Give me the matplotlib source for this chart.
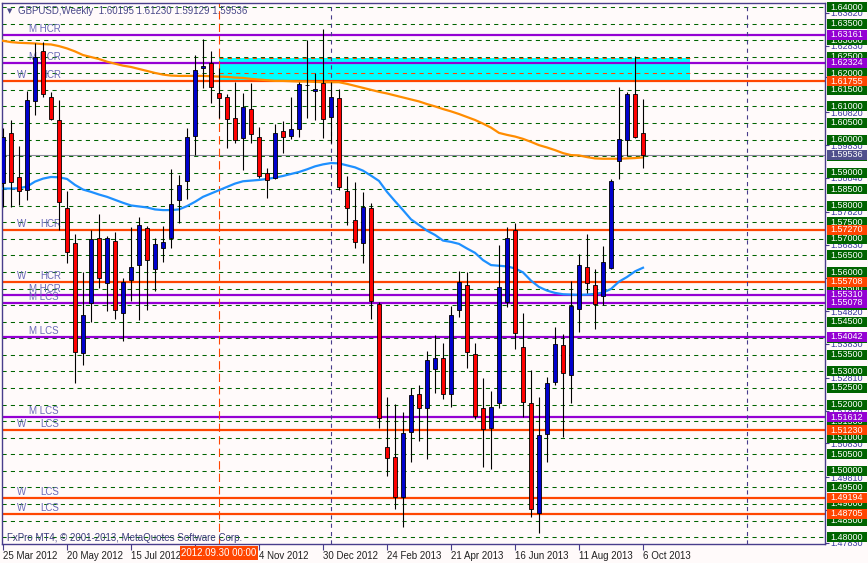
import numpy as np
import pandas as pd
import matplotlib
matplotlib.use('Agg')
import matplotlib.pyplot as plt
from matplotlib.patches import Rectangle
from matplotlib.transforms import blended_transform_factory

plt.rcParams['font.family'] = ['Liberation Sans', 'DejaVu Sans']
plt.rcParams['lines.scale_dashes'] = False

symbol = 'GBPUSD,Weekly'
first_week = '2012-03-25'

# weekly OHLC
opens = [1.5870, 1.6019, 1.5886, 1.5847, 1.6116, 1.6267, 1.6127, 1.6059, 1.5792, 1.5687,
         1.5357, 1.5507, 1.5702, 1.5566, 1.5693, 1.5475, 1.5575, 1.5620, 1.5732, 1.5608,
         1.5672, 1.5702, 1.5817, 1.5874, 1.6012, 1.6215, 1.6230, 1.6140, 1.6127, 1.6064,
         1.6004, 1.6091, 1.6007, 1.5898, 1.5883, 1.6027, 1.6012, 1.6031, 1.6164, 1.6147,
         1.6170, 1.6067, 1.6124, 1.5845, 1.5757, 1.5687, 1.5792, 1.5504, 1.5073, 1.5041,
         1.4922, 1.5116, 1.5232, 1.5189, 1.5306, 1.5340, 1.5231, 1.5485, 1.5560, 1.5352,
         1.5189, 1.5130, 1.5204, 1.5510, 1.5726, 1.5374, 1.5204, 1.4872, 1.5110, 1.5267,
         1.5380, 1.5288, 1.5488, 1.5614, 1.5560, 1.5528, 1.5611, 1.5934, 1.5998, 1.6137,
         1.60195]
highs = [1.6035, 1.6059, 1.5980, 1.6147, 1.6290, 1.6295, 1.6143, 1.6119, 1.5846, 1.5714,
         1.5599, 1.5727, 1.5774, 1.5709, 1.5721, 1.5581, 1.5737, 1.5767, 1.5739, 1.5702,
         1.5740, 1.5911, 1.5893, 1.6034, 1.6255, 1.6303, 1.6267, 1.6215, 1.6137, 1.6175,
         1.6141, 1.6172, 1.6039, 1.5913, 1.6046, 1.6057, 1.6129, 1.6175, 1.6300, 1.6200,
         1.6333, 1.6175, 1.6152, 1.5890, 1.5873, 1.5843, 1.5807, 1.5510, 1.5222, 1.5201,
         1.5177, 1.5249, 1.5259, 1.5362, 1.5410, 1.5385, 1.5498, 1.5603, 1.5599, 1.5385,
         1.5279, 1.5241, 1.5682, 1.5735, 1.5747, 1.5477, 1.5304, 1.5222, 1.5284, 1.5435,
         1.5413, 1.5573, 1.5654, 1.5715, 1.5609, 1.5679, 1.5882, 1.6158, 1.6144, 1.6252,
         1.61230]
lows = [1.5797, 1.5797, 1.5802, 1.5817, 1.6074, 1.6128, 1.6059, 1.5727, 1.5626, 1.5266,
        1.5319, 1.5450, 1.5551, 1.5483, 1.5458, 1.5391, 1.5513, 1.5455, 1.5485, 1.5544,
        1.5631, 1.5673, 1.5747, 1.5820, 1.5953, 1.6156, 1.6109, 1.6064, 1.5974, 1.5990,
        1.5908, 1.5990, 1.5883, 1.5823, 1.5880, 1.5958, 1.6001, 1.6009, 1.6064, 1.6059,
        1.6004, 1.5989, 1.5848, 1.5742, 1.5672, 1.5628, 1.5457, 1.5128, 1.4985, 1.4885,
        1.4831, 1.5028, 1.5091, 1.5035, 1.5236, 1.5216, 1.5194, 1.5465, 1.5311, 1.5156,
        1.5012, 1.5006, 1.5191, 1.5493, 1.5367, 1.5163, 1.4860, 1.4813, 1.5028, 1.5258,
        1.5101, 1.5204, 1.5420, 1.5536, 1.5427, 1.5501, 1.5608, 1.5882, 1.5950, 1.6005,
        1.59129]
closes = [1.6009, 1.5871, 1.5844, 1.6119, 1.6248, 1.6137, 1.6061, 1.5811, 1.5661, 1.5360,
          1.5470, 1.5699, 1.5581, 1.5702, 1.5485, 1.5571, 1.5614, 1.5741, 1.5635, 1.5684,
          1.5690, 1.5804, 1.5862, 1.6007, 1.6210, 1.6222, 1.6159, 1.6126, 1.6061, 1.5999,
          1.6097, 1.6016, 1.5890, 1.5878, 1.6021, 1.6007, 1.6031, 1.6168, 1.6164, 1.6152,
          1.6061, 1.6127, 1.5858, 1.5792, 1.5690, 1.5797, 1.5514, 1.5160, 1.5038, 1.4920,
          1.5113, 1.5229, 1.5191, 1.5335, 1.5341, 1.5231, 1.5469, 1.5569, 1.5358, 1.5166,
          1.5125, 1.5194, 1.5554, 1.5702, 1.5415, 1.5209, 1.4884, 1.5107, 1.5264, 1.5382,
          1.5294, 1.5498, 1.5621, 1.5566, 1.5503, 1.5629, 1.5875, 1.6001, 1.6137, 1.6007,
          1.59536]

# moving averages (orange = slow, blue = fast)
ma_slow = [1.6298, 1.6294, 1.6292, 1.6291, 1.6290, 1.6288, 1.6287, 1.6282, 1.6275, 1.6266,
           1.6255, 1.6249, 1.6243, 1.6235, 1.6229, 1.6223, 1.6219, 1.6213, 1.6207, 1.6201,
           1.6196, 1.6193, 1.6192, 1.6192, 1.6192, 1.6192, 1.6191, 1.6190, 1.6189, 1.6187,
           1.6186, 1.6183, 1.6181, 1.6179, 1.6177, 1.6177, 1.6176, 1.6175, 1.6175, 1.6174,
           1.6173, 1.6173, 1.6173, 1.6168, 1.6162, 1.6156, 1.6150, 1.6144, 1.6139, 1.6133,
           1.6127, 1.6121, 1.6115, 1.6107, 1.6100, 1.6092, 1.6085, 1.6077, 1.6068, 1.6059,
           1.6048, 1.6036, 1.6020, 1.6014, 1.6009, 1.6002, 1.5993, 1.5983, 1.5976, 1.5968,
           1.5959, 1.5953, 1.5952, 1.5947, 1.5943, 1.5942, 1.5942, 1.5942, 1.5943, 1.5944,
           1.5946]
ma_fast = [1.5852, 1.5852, 1.5853, 1.5858, 1.5873, 1.5882, 1.5887, 1.5886, 1.5881, 1.5863,
           1.5849, 1.5842, 1.5834, 1.5827, 1.5818, 1.5809, 1.5801, 1.5798, 1.5795, 1.5789,
           1.5787, 1.5787, 1.5789, 1.5799, 1.5812, 1.5827, 1.5837, 1.5847, 1.5857, 1.5867,
           1.5874, 1.5876, 1.5878, 1.5881, 1.5885, 1.5890, 1.5896, 1.5902, 1.5910, 1.5919,
           1.5925, 1.5929, 1.5928, 1.5922, 1.5916, 1.5906, 1.5891, 1.5875, 1.5842, 1.5814,
           1.5787, 1.5759, 1.5742, 1.5725, 1.5712, 1.5695, 1.5691, 1.5685, 1.5671, 1.5658,
           1.5636, 1.5621, 1.5619, 1.5617, 1.5611, 1.5599, 1.5574, 1.5555, 1.5544, 1.5537,
           1.5533, 1.5532, 1.5531, 1.5532, 1.5534, 1.5538, 1.5549, 1.5571, 1.5585, 1.5602,
           1.5613]

# support / resistance levels
level_prices = [1.63161, 1.62324, 1.61755, 1.57270, 1.55708, 1.55310,
                1.55078, 1.54042, 1.51612, 1.51230, 1.49194, 1.48705]
level_frames = ['M', 'M', 'W', 'W', 'W', 'M', 'M', 'M', 'M', 'W', 'W', 'W']
level_names = ['HCR', 'HCR', 'HCR', 'HCR', 'HCR', 'HCR',
               'LCS', 'LCS', 'LCS', 'LCS', 'LCS', 'LCS']

zone_start = 27
zone_end = 85.9
zone_low = 1.61755
zone_high = 1.62455

year_breaks = [41, 93]
marker_bar = 27
marker_label = '2012.09.30 00:00'

scale_labels = [1.63820, 1.62830, 1.61880, 1.60820, 1.59830, 1.58840, 1.57820, 1.56830,
                1.55810, 1.54820, 1.53830, 1.52810, 1.51820, 1.50830, 1.49810, 1.48820, 1.47830]

n = len(closes)
x = np.arange(n)
o = np.array(opens); h = np.array(highs); l = np.array(lows); c = np.array(closes)
weeks = pd.date_range(first_week, periods=n, freq='W-SUN')

bg = '#fffafa'
frame = '#483d8b'
fig = plt.figure(figsize=(8.68, 5.63), dpi=100, facecolor=bg)
ax = fig.add_axes([2/868, 19/563, 823/868, 541/563], facecolor=bg)
ax.set_xlim(-0.125, 102.75)
ax.set_ylim(1.47791, 1.64121)

# grid
grid = np.round(np.arange(1.48, 1.6401, 0.005), 3)
for p in grid:
    ax.axhline(p, color='#006400', lw=0.75, ls=(0, (3, 3)), zorder=1)

# zone box
ax.add_patch(Rectangle((zone_start, zone_low), zone_end - zone_start, zone_high - zone_low,
                       fc='#00ffff', ec='none', zorder=1.5))
ax.plot([zone_start, zone_end], [zone_high, zone_high], color='#ff4500', lw=0.75, ls=(0, (3, 3)), zorder=1.6)
ax.plot([zone_start, zone_end], [1.62, 1.62], color='#ff4500', lw=0.75, ls=(0, (3, 3)), zorder=1.6)

# levels
lvl_color = {'M': '#9400d3', 'W': '#ff4500'}
for p, fr, nm in zip(level_prices, level_frames, level_names):
    ax.axhline(p, color=lvl_color[fr], lw=1.6, zorder=2)
    if fr == 'M':
        ax.text(3.25, p + 0.0003, f'M {nm}', color='#6a6ab8', fontsize=7, va='bottom', zorder=2.5)
    else:
        ax.text(1.75, p + 0.0003, 'W', color='#6a6ab8', fontsize=7, va='bottom', zorder=2.5)
        ax.text(4.6, p + 0.0003, nm, color='#6a6ab8', fontsize=7, va='bottom', zorder=2.5)

ax.axhline(closes[-1], color='#8a8a9a', lw=0.8, zorder=2)
for b in year_breaks:
    ax.axvline(b, color=frame, lw=0.8, ls=(0, (3, 3)), zorder=2)
ax.axvline(marker_bar, color='#ff4500', lw=0.8, ls=(0, (6, 3)), zorder=2)

# moving averages
ax.plot(x, ma_slow, color='#ff8c00', lw=1.6, zorder=3)
ax.plot(x, ma_fast, color='#1e90ff', lw=1.6, zorder=3)

# candles
ax.vlines(x, l, h, color='black', lw=0.8, zorder=4)
cols = np.where(c >= o, '#0000cd', '#ff0000')
ax.bar(x, np.abs(c - o), bottom=np.minimum(o, c), width=0.62, color=cols,
       edgecolor='black', linewidth=0.6, zorder=5)

for s in ax.spines.values():
    s.set_color(frame)
    s.set_linewidth(1)

# axes ticks
ax.yaxis.tick_right()
ax.set_yticks(scale_labels)
ax.set_yticklabels([f'{v:.5f}' for v in scale_labels])
ax.tick_params(axis='y', direction='out', length=3, color=frame, pad=1,
               labelsize=6.5, labelcolor='#3a3aa0')
ticks = list(range(0, n, 8))
tlabels = [f'{weeks[i].day} {weeks[i].strftime("%b %Y")}' for i in ticks]
tlabels[3] = ''
ax.set_xticks(ticks)
ax.set_xticklabels(tlabels)
for lb in ax.get_xticklabels():
    lb.set_ha('left')
ax.tick_params(axis='x', direction='out', length=4, color=frame, pad=1,
               labelsize=7, labelcolor='#202020')

# price tags on the right
tr = blended_transform_factory(fig.transFigure, ax.transData)

def price_tag(p, txt, fc, z):
    ax.add_patch(Rectangle((827/868, p - 5/3313), 40/868, 10/3313, transform=tr,
                           fc=fc, ec='none', clip_on=False, zorder=z))
    ax.text(847/868, p, txt, transform=tr, ha='center', va='center', color='white',
            fontsize=6.5, clip_on=False, zorder=z + 0.1)

for p in grid:
    price_tag(p, f'{p:.5f}', '#006400', 6)
for p, fr in zip(level_prices, level_frames):
    price_tag(p, f'{p:.5f}', lvl_color[fr], 7)
price_tag(closes[-1], f'{closes[-1]:.5f}', '#50508c', 8)

# time marker label at the bottom
tb = blended_transform_factory(ax.transData, fig.transFigure)
ax.add_patch(Rectangle((marker_bar - 39/8, 3/563), 78/8, 14/563, transform=tb,
                       fc='#ff4500', ec='none', clip_on=False, zorder=9))
ax.text(marker_bar, 10/563, marker_label, transform=tb, ha='center', va='center',
        color='white', fontsize=7, clip_on=False, zorder=9.1)

# header and footer text
fig.text(7/868, 1 - 11/563, '\u25bc', fontsize=5, color='#4a4a8a', va='center', family='DejaVu Sans')
fig.text(18/868, 1 - 11/563, f'{symbol}  {opens[-1]:.5f} {highs[-1]:.5f} {lows[-1]:.5f} {closes[-1]:.5f}',
         fontsize=7, color='#4a4a8a', va='center')
fig.text(7/868, 1 - 538/563, 'FxPro MT4, \u00a9 2001-2013, MetaQuotes Software Corp.',
         fontsize=7, color='#3c3c7c', va='center')

fig.savefig('out.png', dpi=100, facecolor=bg)
